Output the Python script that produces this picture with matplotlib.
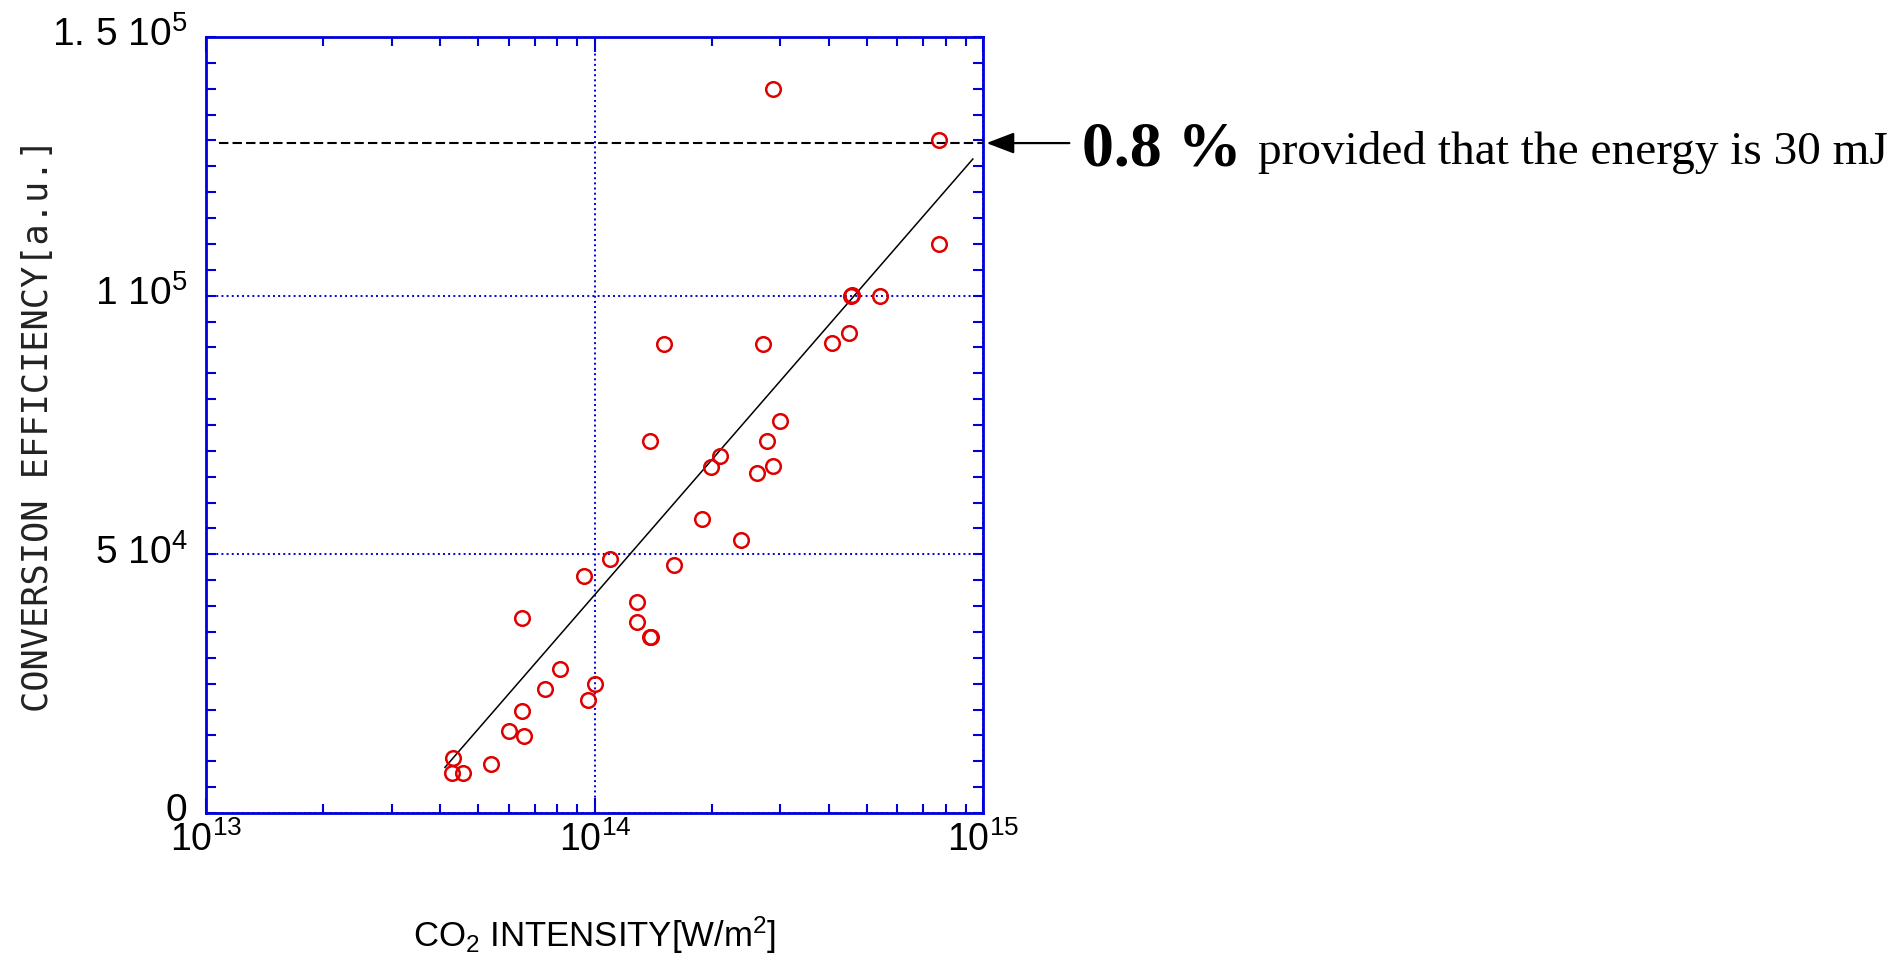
import matplotlib
matplotlib.use("Agg")
import matplotlib.pyplot as plt
from matplotlib.ticker import FixedLocator, MultipleLocator, LogLocator, NullFormatter
from matplotlib.transforms import ScaledTranslation

plt.rcParams['font.family'] = ['Liberation Sans', 'DejaVu Sans']
plt.rcParams['mathtext.fontset'] = 'custom'
plt.rcParams['mathtext.rm'] = 'Liberation Sans'
plt.rcParams['mathtext.it'] = 'Liberation Sans:italic'
plt.rcParams['mathtext.bf'] = 'Liberation Sans:bold'

# measured points: CO2 intensity [W/m2] vs conversion efficiency [a.u.]
intensity = [4.30e13, 4.29e13, 4.58e13, 5.39e13, 5.99e13, 6.55e13, 6.47e13, 7.44e13,
             8.13e13, 6.47e13, 9.60e13, 9.99e13, 9.35e13, 1.091e14, 1.60e14, 1.286e14,
             1.286e14, 1.389e14, 1.395e14, 1.503e14, 1.389e14, 2.70e14, 4.08e14, 4.51e14,
             2.99e14, 2.78e14, 2.10e14, 1.993e14, 2.61e14, 2.88e14, 1.89e14, 2.38e14,
             2.88e14, 7.70e14, 7.70e14, 4.57e14, 4.60e14, 5.40e14]
efficiency = [10690, 7790, 7790, 9410, 15790, 14830, 19780, 24030,
              27840, 37760, 21900, 24870, 45750, 49040, 47880, 40790,
              36920, 34020, 34100, 90720, 71970, 90720, 90790, 92780,
              75710, 71970, 69070, 66940, 65780, 67020, 56890, 52830,
              139950, 130030, 109930, 99880, 100100, 99880]

# fitted line (end points)
fit_x = [4.11e13, 9.39e14]
fit_y = [8830, 126420]

# 0.8 % level
level_y = 1.295e5
level_x = [1.08e13, 1.0e15]

yticks = [0, 5e4, 1e5, 1.5e5]
ytick_labels = ['0', r'5 $\mathregular{10^{4}}$', r'1 $\mathregular{10^{5}}$', r'1. 5 $\mathregular{10^{5}}$']
xticks = [1e13, 1e14, 1e15]
xtick_labels = [r'$\mathregular{10^{13}}$', r'$\mathregular{10^{14}}$', r'$\mathregular{10^{15}}$']

blue = '#0000dd'

fig = plt.figure(figsize=(19.03, 9.59), dpi=100)
ax = fig.add_axes([0.1085, 0.1522, 0.4083, 0.8092])

ax.set_xscale('log')
ax.set_xlim(1e13, 1e15)
ax.set_ylim(0, 1.5e5)

ax.plot(fit_x, fit_y, color='black', lw=1.1, zorder=3)
ax.plot(level_x, [level_y, level_y], color='black', lw=1.5, dashes=[4.5, 2], zorder=3)
ax.plot(intensity, efficiency, 'o', mfc='none', mec='#e00000', ms=10.5, mew=1.8, zorder=4)

ax.set_xticks(xticks)
ax.set_xticklabels(xtick_labels)
ax.xaxis.set_minor_locator(LogLocator(base=10, subs=range(2, 10)))
ax.xaxis.set_minor_formatter(NullFormatter())
ax.yaxis.set_major_locator(FixedLocator(yticks))
ax.set_yticklabels(ytick_labels)
ax.yaxis.set_minor_locator(MultipleLocator(5000))

ax.tick_params(which='both', direction='in', top=True, right=True, color=blue, width=1.5)
ax.tick_params(axis='x', which='major', length=11, pad=6, labelsize=27)
ax.tick_params(axis='x', which='minor', length=6.5)
ax.tick_params(axis='y', which='major', length=7.5, pad=14, labelsize=28)
ax.tick_params(axis='y', which='minor', length=7.5)

# y tick labels sit a little above their ticks
for lab in ax.get_yticklabels():
    lab.set_transform(lab.get_transform() + ScaledTranslation(0, 4 / 72, fig.dpi_scale_trans))

for s in ax.spines.values():
    s.set_color(blue)
    s.set_linewidth(2)

ax.grid(True, which='major', color=blue, linestyle=':', lw=1.4)
ax.set_axisbelow(True)

ax.set_xlabel(r'CO$_2$ INTENSITY[W/m$^{2}$]', fontsize=25, labelpad=40)
ax.set_ylabel('CONVERSION EFFICIENCY[a.u.]', fontsize=25.5, color='#222222',
              family=['DejaVu Sans Mono', 'DejaVu Sans'])
ax.yaxis.set_label_coords(-0.195, 0.5)

ax.annotate('', xy=(1.018e15, level_y), xytext=(1.664e15, level_y),
            xycoords='data', textcoords='data', annotation_clip=False,
            arrowprops=dict(arrowstyle='-|>,head_length=1.7,head_width=0.65',
                            color='black', lw=1.6, shrinkA=0, shrinkB=0))

fig.text(1082 / 1903, 1 - 165 / 959, '0.8 %', fontsize=46, fontweight='bold',
         family=['Liberation Serif', 'DejaVu Serif'], va='baseline', ha='left')
fig.text(1258 / 1903, 1 - 164 / 959, 'provided that the energy is 30 mJ', fontsize=34,
         family=['Liberation Serif', 'DejaVu Serif'], va='baseline', ha='left')

fig.savefig('out.png', dpi=100)
